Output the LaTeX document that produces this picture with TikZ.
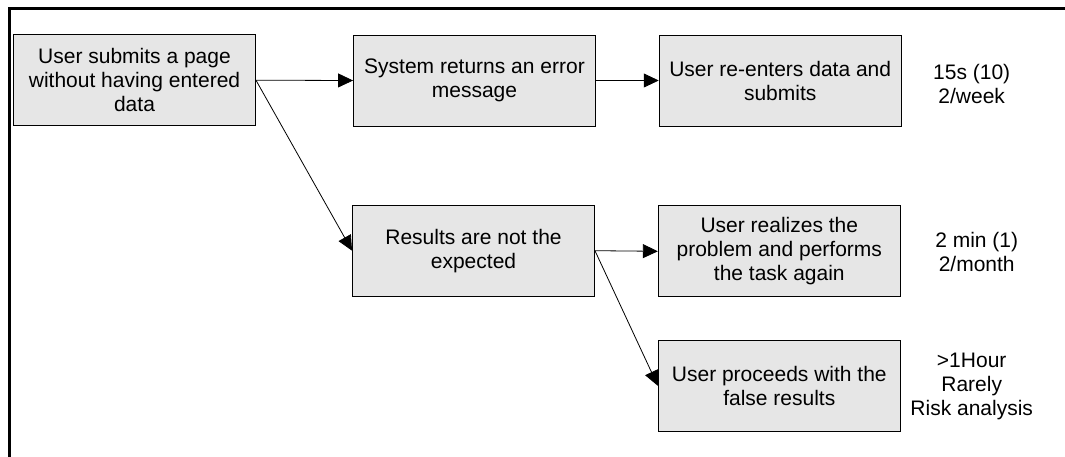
\documentclass[tikz,border=0pt]{standalone}
\usepackage{fontspec}
\setmainfont{Liberation Sans}
\usetikzlibrary{arrows.meta}
\definecolor{boxfill}{RGB}{230,230,230}
\tikzset{
  stepbox/.style={draw=black, line width=0.9pt, fill=boxfill,
    minimum width=242pt, minimum height=91pt, inner sep=0pt,
    align=center, font=\fontsize{21}{24}\selectfont},
  note/.style={align=center, inner sep=0pt, font=\fontsize{21}{24}\selectfont},
  flow/.style={line width=0.8pt, -{Triangle[length=15pt,width=14pt]}},
  frame/.style={line width=2.5pt}
}
\begin{document}
\begin{tikzpicture}[x=1pt, y=-1pt]
  \useasboundingbox (0,0) rectangle (1065,457);
  % open frame: top and left edges only
  \coordinate (fTR) at (1066,8.7);
  \coordinate (fTL) at (9.5,8.7);
  \coordinate (fBL) at (9.5,458);
  \draw[frame] (fTR) -- (fTL) -- (fBL);

  % process steps
  \node[stepbox] (submit)  at (134.5,80.2) {User submits a page\\without having entered\\data};
  \node[stepbox] (error)   at (474.5,80.5) {System returns an error\\message};
  \node[stepbox] (reenter) at (780.2,80.5) {User re-enters data and\\submits};
  \node[stepbox] (results) at (473.5,250.7) {Results are not the\\expected};
  \node[stepbox] (realize) at (779.3,251.3) {User realizes the\\problem and performs\\the task again};
  \node[stepbox] (proceed) at (779.3,385.8) {User proceeds with the\\false results};

  % cost / frequency notes
  \node[note] (n1) at (971.7,84) {15s (10)\\2/week};
  \node[note] (n2) at (976.7,252) {2 min (1)\\2/month};
  \node[note] (n3) at (971.7,386) {>1Hour\\Rarely\\Risk analysis};

  % connectors
  \draw[flow] (submit.east) -- (error.west);
  \draw[flow] (submit.east) -- (results.west);
  \draw[flow] (error.east) -- (reenter.west);
  \draw[flow] (results.east) -- (realize.west);
  \draw[flow] (results.east) -- (proceed.west);
\end{tikzpicture}
\end{document}
